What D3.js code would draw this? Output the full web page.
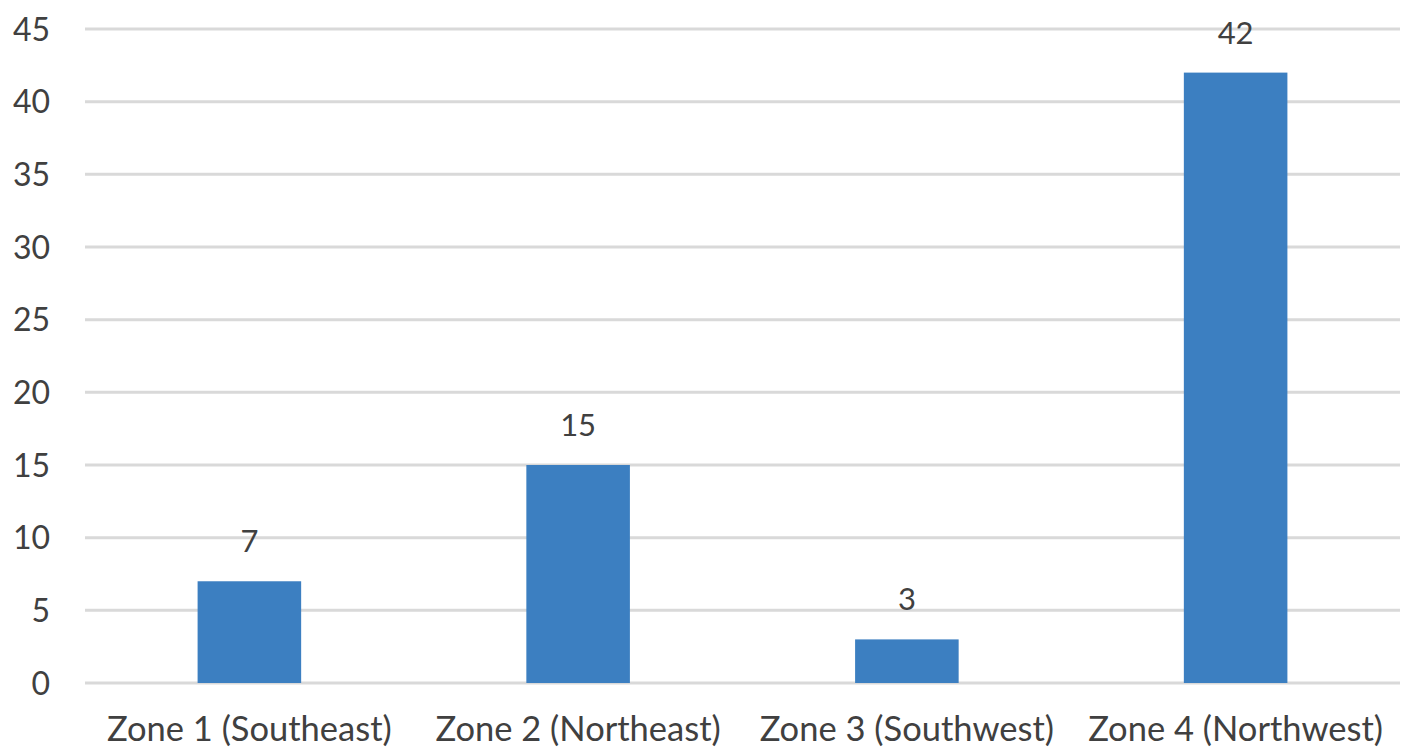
<!DOCTYPE html>
<html>
<head>
<meta charset="utf-8" />
<style>
  body { margin: 0; background: #fff; }
  svg text { font-family: Lato, "Open Sans", sans-serif; fill: #404040; }
</style>
</head>
<body>
<div id="chart"></div>
<script src="https://d3js.org/d3.v7.min.js"></script>
<script>
const zones = ["Zone 1 (Southeast)", "Zone 2 (Northeast)", "Zone 3 (Southwest)", "Zone 4 (Northwest)"];
const counts = [7, 15, 3, 42];
const yTicks = [0, 5, 10, 15, 20, 25, 30, 35, 40, 45];

const width = 1401, height = 750;
const margin = {top: 29, right: 1, bottom: 67, left: 85};

const svg = d3.select("#chart").append("svg")
  .attr("width", width)
  .attr("height", height);

const x = d3.scaleBand()
  .domain(zones)
  .range([margin.left, width - margin.right])
  .paddingInner(0.685)
  .paddingOuter(0.3425);

const y = d3.scaleLinear()
  .domain([0, 45])
  .range([height - margin.bottom, margin.top]);

// gridlines
svg.append("g")
  .selectAll("line")
  .data(yTicks)
  .join("line")
  .attr("x1", margin.left)
  .attr("x2", width - margin.right)
  .attr("y1", d => y(d))
  .attr("y2", d => y(d))
  .attr("stroke", "#d9d9d9")
  .attr("stroke-width", 3);

// y labels
svg.append("g")
  .selectAll("text")
  .data(yTicks)
  .join("text")
  .attr("x", 50)
  .attr("y", d => y(d))
  .attr("dy", "0.36em")
  .attr("text-anchor", "end")
  .style("font-size", "32px")
  .text(d => d);

// bars
svg.append("g")
  .selectAll("rect")
  .data(counts)
  .join("rect")
  .attr("x", (d, i) => x(zones[i]))
  .attr("width", x.bandwidth())
  .attr("y", d => y(d))
  .attr("height", d => y(0) - y(d))
  .attr("fill", "#3c7fc1");

// value labels
svg.append("g")
  .selectAll("text")
  .data(counts)
  .join("text")
  .attr("x", (d, i) => x(zones[i]) + x.bandwidth() / 2)
  .attr("y", d => y(d) - 29)
  .attr("text-anchor", "middle")
  .style("font-size", "31px")
  .text(d => d);

// x labels
svg.append("g")
  .selectAll("text")
  .data(zones)
  .join("text")
  .attr("x", d => x(d) + x.bandwidth() / 2)
  .attr("y", 741)
  .attr("text-anchor", "middle")
  .style("font-size", "34.5px")
  .text(d => d);
</script>
</body>
</html>
